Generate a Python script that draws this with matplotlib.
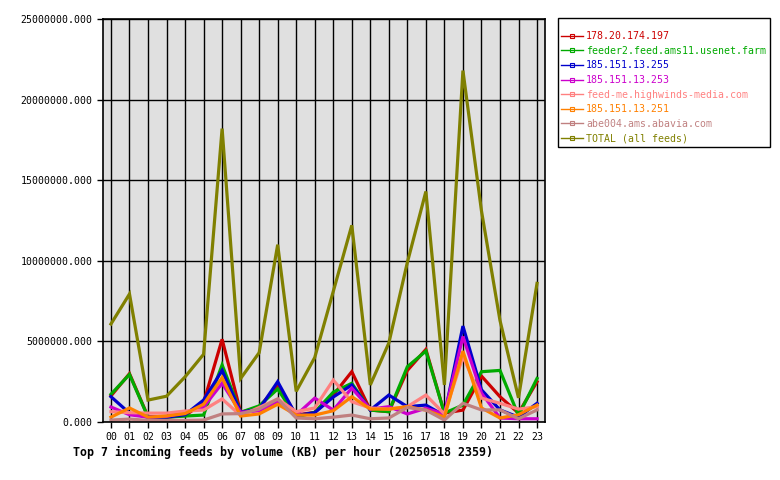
import numpy as np
import matplotlib
matplotlib.use("Agg")
import matplotlib.pyplot as plt
from matplotlib.lines import Line2D
from matplotlib.ticker import FormatStrFormatter, MultipleLocator

# hourly volume per feed, in KB
hours = ["%02d" % h for h in range(24)]

feed_names = ["178.20.174.197", "feeder2.feed.ams11.usenet.farm", "185.151.13.255",
              "185.151.13.253", "feed-me.highwinds-media.com", "185.151.13.251",
              "abe004.ams.abavia.com", "TOTAL (all feeds)"]
feed_colors = ["#cc0000", "#00aa00", "#0000cc", "#cc00cc", "#ff8080", "#ff8000",
               "#c08080", "#808000"]

red_feed = [1.62, 3.00, 0.33, 0.30, 0.40, 1.20, 5.13, 0.60, 0.90, 2.30, 0.43, 0.60,
            1.67, 3.12, 0.74, 0.64, 3.20, 4.50, 0.55, 0.74, 2.85, 1.57, 0.55, 2.50]
green_feed = [1.72, 2.95, 0.30, 0.30, 0.37, 0.43, 3.54, 0.60, 1.00, 2.05, 0.30, 0.60,
              1.85, 2.40, 0.74, 0.64, 3.43, 4.40, 0.55, 1.05, 3.12, 3.20, 0.40, 2.70]
blue_feed = [1.57, 0.55, 0.30, 0.30, 0.45, 1.36, 3.20, 0.60, 0.80, 2.50, 0.40, 0.58,
             1.55, 2.30, 0.74, 1.67, 0.95, 1.05, 0.40, 5.95, 2.00, 0.75, 0.30, 1.16]
magenta_feed = [0.93, 0.45, 0.30, 0.35, 0.60, 0.93, 2.40, 0.60, 0.70, 1.26, 0.43, 1.48,
                0.74, 2.10, 0.80, 0.95, 0.50, 0.85, 0.50, 5.30, 1.80, 0.25, 0.20, 0.20]
salmon_feed = [0.64, 0.58, 0.55, 0.55, 0.68, 0.74, 1.43, 0.40, 0.90, 1.43, 0.64, 0.87,
               2.60, 1.26, 0.87, 0.80, 0.95, 1.67, 0.50, 4.05, 1.48, 1.16, 0.80, 0.95]
orange_feed = [0.30, 0.87, 0.30, 0.37, 0.52, 1.10, 2.75, 0.37, 0.50, 1.10, 0.43, 0.43,
               0.70, 1.57, 0.80, 0.80, 0.95, 0.74, 0.30, 4.40, 0.87, 0.25, 0.45, 1.05]
rosy_feed = [0.12, 0.18, 0.10, 0.10, 0.10, 0.12, 0.50, 0.52, 0.80, 1.43, 0.25, 0.20,
             0.30, 0.43, 0.20, 0.25, 0.90, 0.74, 0.12, 1.16, 0.75, 0.75, 0.20, 0.75]
total_feed = [6.08, 7.94, 1.36, 1.60, 2.80, 4.20, 18.2, 2.70, 4.30, 11.0, 1.90, 4.00,
              8.10, 12.2, 2.30, 4.90, 9.90, 14.3, 2.30, 21.8, 13.1, 6.30, 1.50, 8.60]

series = [red_feed, green_feed, blue_feed, magenta_feed, salmon_feed, orange_feed,
          rosy_feed, total_feed]

mono = "DejaVu Sans Mono"
plt.rcParams["font.family"] = mono

fig = plt.figure(figsize=(7.8, 4.8), dpi=100)
ax = fig.add_axes([103 / 780, 58 / 480, 442 / 780, 403 / 480])
ax.set_facecolor("#e0e0e0")

x = np.arange(24)
# total first, feeds on top of it
order = [7, 0, 1, 2, 3, 4, 5, 6]
for i in order:
    ax.plot(x, np.array(series[i]) * 1e6, color=feed_colors[i], linewidth=2.3,
            solid_joinstyle="miter", zorder=2)

ax.set_xlim(-0.43, 23.43)
ax.set_ylim(0, 25e6)
ax.set_xticks(x)
ax.set_xticklabels(hours)
ax.yaxis.set_major_locator(MultipleLocator(5e6))
ax.yaxis.set_major_formatter(FormatStrFormatter("%.3f"))
ax.grid(True, color="black", linewidth=1, zorder=1)
ax.set_axisbelow(True)
ax.tick_params(axis="both", labelsize=7.1, direction="out", length=4, width=1,
               colors="black")
for s in ax.spines.values():
    s.set_linewidth(1.2)

handles = [Line2D([0], [0], color=c, linewidth=1, marker="s", markersize=2.5,
                  markerfacecolor="none", markeredgewidth=0.8) for c in feed_colors]
# empty title only to get the extra room above the first row
leg = fig.legend(handles, feed_names, loc="upper left",
                 bbox_to_anchor=(558 / 780, 462 / 480), prop={"family": mono, "size": 7.1},
                 frameon=True, fancybox=False, edgecolor="black", framealpha=1,
                 handlelength=2.2, handletextpad=0.3, labelspacing=0.47,
                 borderpad=0.35, borderaxespad=0, title=" ", title_fontsize=4.5)
leg.get_frame().set_linewidth(1)
for t, c in zip(leg.get_texts(), feed_colors):
    t.set_color(c)

fig.text(73 / 780, 1 - 452 / 480, "Top 7 incoming feeds by volume (KB) per hour (20250518 2359)",
         fontsize=8.4, fontweight="bold", family=mono, va="center", ha="left")

fig.savefig("out.png", dpi=100)
